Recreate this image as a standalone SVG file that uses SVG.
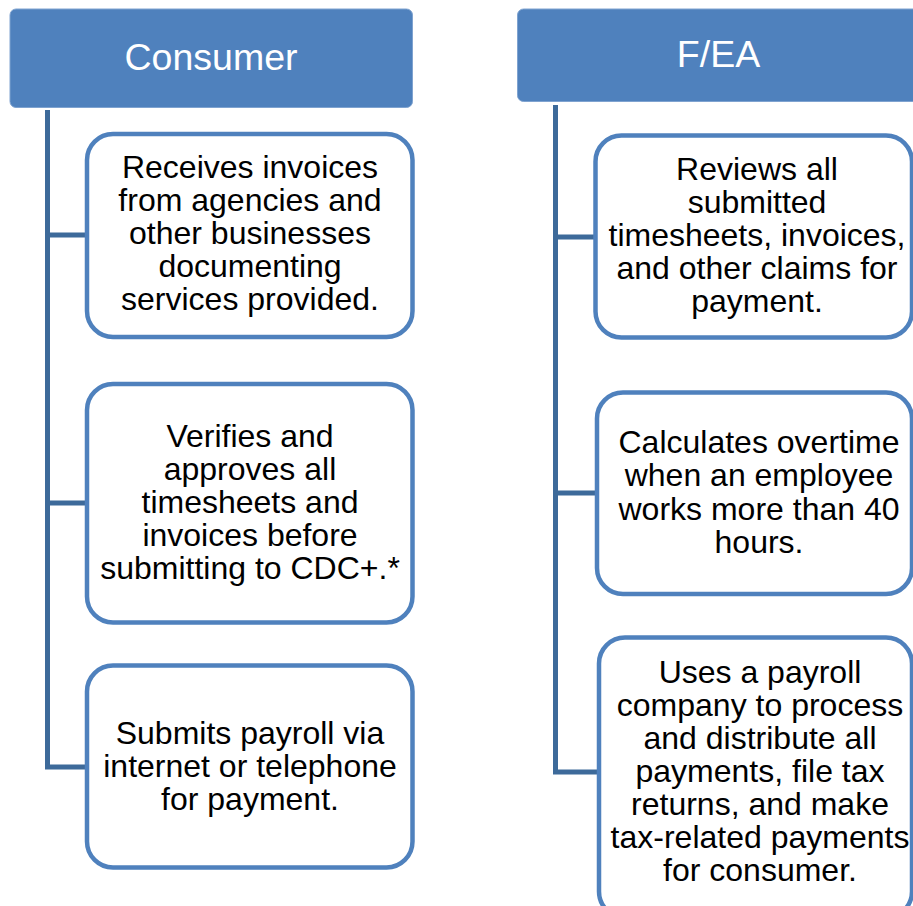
<svg xmlns="http://www.w3.org/2000/svg" width="913" height="906" viewBox="0 0 913 906">
<style>
.hdr{fill:#4F81BD;stroke:#7FA3D0;stroke-width:1}
.box{fill:#FFFFFF;stroke:#4F81BD;stroke-width:4.5}
.conn{fill:none;stroke:#3D6A9A;stroke-width:5}
.ht{font-family:"Liberation Sans",Arial,sans-serif;font-size:37.5px;fill:#FFFFFF;text-anchor:middle}
.bt{font-family:"Liberation Sans",Arial,sans-serif;font-size:32px;fill:#000000;text-anchor:middle}
</style>
<rect width="913" height="906" fill="#FFFFFF"/>
<g id="connectors">
<path class="conn" d="M47.5,110 V767 H87 M47.5,235 H87 M47.5,503 H87"/>
<path class="conn" d="M555.5,105 V772 H599 M555.5,237 H595.5 M555.5,493 H597"/>
</g>
<g id="consumer">
<rect class="hdr" x="10" y="9" width="402.5" height="98.5" rx="6"/>
<text class="ht" x="211" y="70">Consumer</text>
</g>
<g id="fea">
<rect class="hdr" x="517.5" y="9" width="402" height="92.5" rx="6"/>
<text class="ht" x="718.5" y="67">F/EA</text>
</g>
<g id="c1">
<rect class="box" x="87" y="134" width="325.5" height="203" rx="26"/>
<text class="bt" x="250"><tspan x="250" y="178">Receives invoices</tspan><tspan x="250" y="211">from agencies and</tspan><tspan x="250" y="244">other businesses</tspan><tspan x="250" y="277">documenting</tspan><tspan x="250" y="310">services provided.</tspan></text>
</g>
<g id="c2">
<rect class="box" x="87" y="384" width="325.5" height="238.5" rx="26"/>
<text class="bt" x="250"><tspan x="250" y="447">Verifies and</tspan><tspan x="250" y="480">approves all</tspan><tspan x="250" y="513">timesheets and</tspan><tspan x="250" y="546">invoices before</tspan><tspan x="250" y="579">submitting to CDC+.*</tspan></text>
</g>
<g id="c3">
<rect class="box" x="87" y="665.5" width="325.5" height="202" rx="26"/>
<text class="bt" x="250"><tspan x="250" y="744">Submits payroll via</tspan><tspan x="250" y="777">internet or telephone</tspan><tspan x="250" y="810">for payment.</tspan></text>
</g>
<g id="f1">
<rect class="box" x="595.5" y="135.5" width="316.5" height="202" rx="26"/>
<text class="bt" x="757"><tspan x="757" y="180">Reviews all</tspan><tspan x="757" y="213">submitted</tspan><tspan x="757" y="246">timesheets, invoices,</tspan><tspan x="757" y="279">and other claims for</tspan><tspan x="757" y="312">payment.</tspan></text>
</g>
<g id="f2">
<rect class="box" x="597" y="392.5" width="315" height="201.5" rx="26"/>
<text class="bt" x="759"><tspan x="759" y="453">Calculates overtime</tspan><tspan x="759" y="486">when an employee</tspan><tspan x="759" y="520">works more than 40</tspan><tspan x="759" y="553">hours.</tspan></text>
</g>
<g id="f3">
<rect class="box" x="599" y="637.5" width="313" height="280" rx="26"/>
<text class="bt" x="760"><tspan x="760" y="683">Uses a payroll</tspan><tspan x="760" y="716">company to process</tspan><tspan x="760" y="749">and distribute all</tspan><tspan x="760" y="782">payments, file tax</tspan><tspan x="760" y="815">returns, and make</tspan><tspan x="760" y="848">tax-related payments</tspan><tspan x="760" y="881">for consumer.</tspan></text>
</g>
</svg>
